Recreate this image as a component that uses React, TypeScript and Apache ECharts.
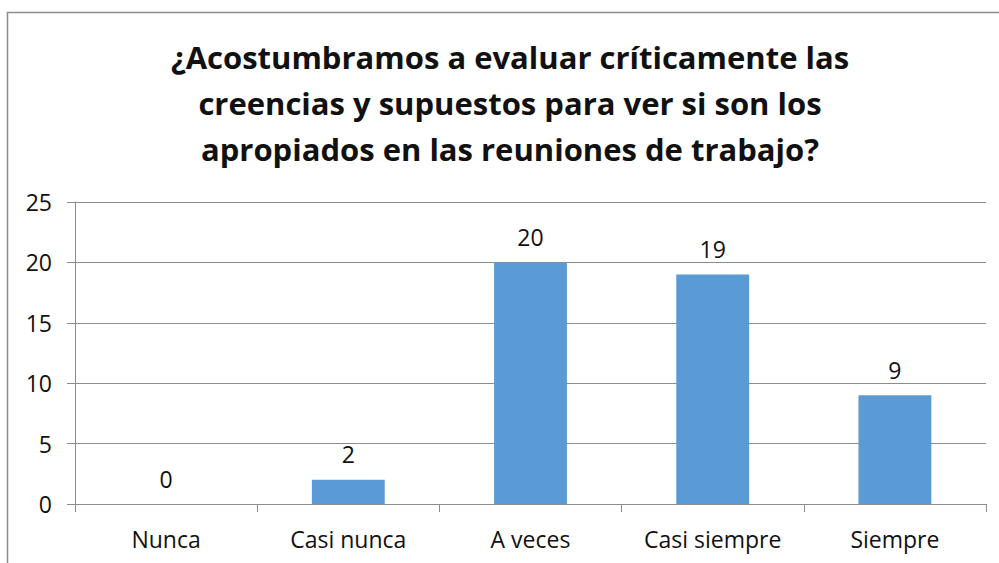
import React, { useEffect, useRef } from "react";
import * as echarts from "echarts";

const titleLines = [
  "¿Acostumbramos a evaluar críticamente las",
  "creencias y supuestos para ver si son los",
  "apropiados en las reuniones de trabajo?",
];
const categories = ["Nunca", "Casi nunca", "A veces", "Casi siempre", "Siempre"];
const values = [0, 2, 20, 19, 9];
const yTicks = { min: 0, max: 25, interval: 5 };

const FONT = "'Open Sans', 'Noto Sans', 'DejaVu Sans', sans-serif";

export default function App() {
  const ref = useRef<HTMLDivElement>(null);
  useEffect(() => {
    if (!ref.current) return;
    const chart = echarts.init(ref.current, undefined, { renderer: "svg" });
    chart.setOption({
      animation: false,
      backgroundColor: "#ffffff",
      title: {
        text: titleLines.join("\n"),
        left: 505,
        textAlign: "center",
        top: 29,
        textStyle: {
          fontFamily: FONT,
          fontWeight: "bold",
          fontSize: 31,
          lineHeight: 46,
          color: "#111111",
        },
      },
      graphic: [
        {
          type: "rect",
          shape: { x: 7.5, y: 12.5, width: 1200, height: 800 },
          style: { fill: "none", stroke: "#8c8c8c", lineWidth: 1.5 },
          silent: true,
          z: -1,
        },
      ],
      grid: { left: 75, right: 13, top: 202, bottom: 59, containLabel: false },
      xAxis: {
        type: "category",
        data: categories,
        axisLine: { lineStyle: { color: "#8c8c8c", width: 1 } },
        axisTick: { show: true, length: 8, alignWithLabel: false, lineStyle: { color: "#8c8c8c" } },
        axisLabel: { color: "#111111", fontSize: 23, fontFamily: FONT, margin: 23 },
      },
      yAxis: {
        type: "value",
        min: yTicks.min,
        max: yTicks.max,
        interval: yTicks.interval,
        axisLine: { show: true, lineStyle: { color: "#8c8c8c", width: 1 } },
        axisTick: { show: true, length: 8, lineStyle: { color: "#8c8c8c" } },
        axisLabel: { color: "#111111", fontSize: 23, fontFamily: FONT, margin: 23 },
        splitLine: { show: true, lineStyle: { color: "#8c8c8c", width: 1 } },
      },
      series: [
        {
          type: "bar",
          data: values,
          barWidth: "40%",
          itemStyle: { color: "#5b9bd5" },
          label: {
            show: true,
            position: "top",
            distance: 14,
            color: "#111111",
            fontSize: 23,
            fontFamily: FONT,
          },
        },
      ],
    });
    return () => chart.dispose();
  }, []);
  return (
    <div
      ref={ref}
      style={{ position: "fixed", left: 0, top: 0, width: 999, height: 563 }}
    />
  );
}
